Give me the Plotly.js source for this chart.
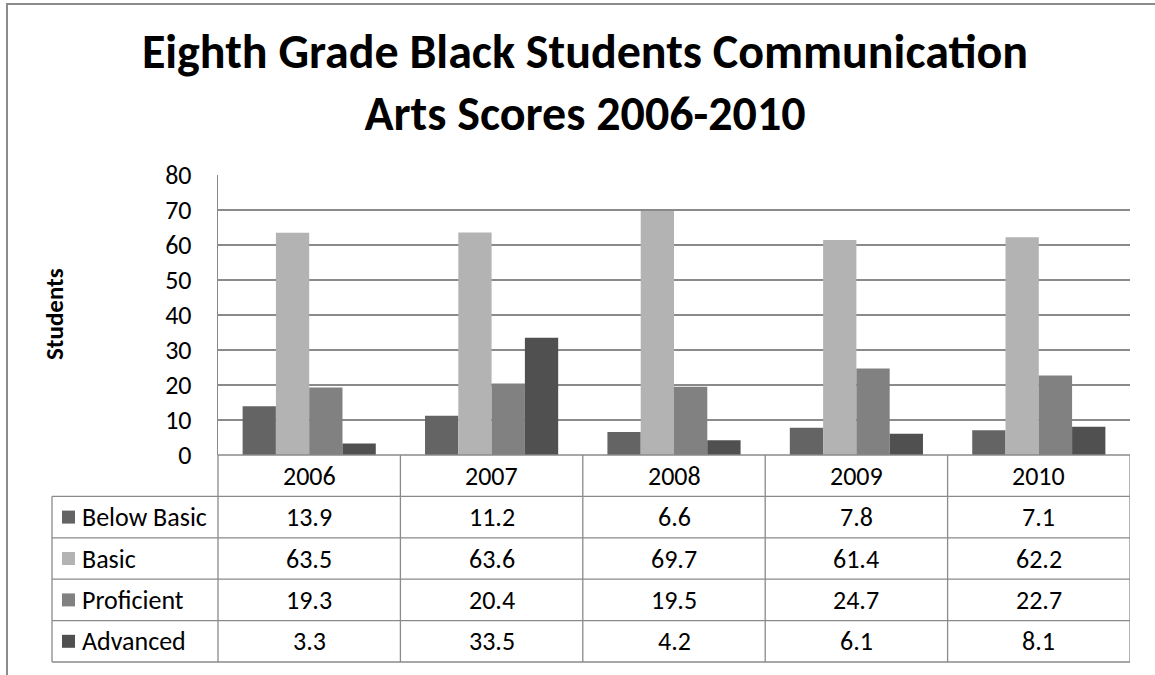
<!DOCTYPE html>
<html>
<head>
<meta charset="utf-8">
<script src="https://cdn.plot.ly/plotly-3.0.1.min.js"></script>
<style>html,body{margin:0;padding:0;background:#fff;}#chart{width:1155px;height:675px;}</style>
</head>
<body>
<div id="chart"></div>
<script>
const years = ['2006', '2007', '2008', '2009', '2010'];
const seriesNames = ['Below Basic', 'Basic', 'Proficient', 'Advanced'];
const belowBasic = [13.9, 11.2, 6.6, 7.8, 7.1];
const basic = [63.5, 63.6, 69.7, 61.4, 62.2];
const proficient = [19.3, 20.4, 19.5, 24.7, 22.7];
const advanced = [3.3, 33.5, 4.2, 6.1, 8.1];
const yTicks = [0, 10, 20, 30, 40, 50, 60, 70, 80];

const seriesValues = [belowBasic, basic, proficient, advanced];
const colors = ['#646464', '#b3b3b3', '#818181', '#505050'];
const FONT = 'Calibri, Carlito, Lato, sans-serif';
const GRID = '#8a8a8a';
const TXT = 26;

// plot area in px
const L = 218, R = 1130, T = 175, B = 455;
const W = 1155, H = 675;
const px2x = p => (p - L) / (R - L);
const py2y = p => (B - p) / (B - T);

const rowH = 41.4;
const tableLeft = 52;

const traces = seriesNames.map((n, i) => ({
  type: 'bar', name: n, x: years, y: seriesValues[i],
  marker: {color: colors[i], line: {width: 0}},
  hoverinfo: 'x+y+name'
}));

const shapes = [];
const annotations = [];
const line = (x0, y0, x1, y1) => shapes.push({type: 'line', xref: 'paper', yref: 'paper',
  x0: px2x(x0), y0: py2y(y0), x1: px2x(x1), y1: py2y(y1), line: {color: GRID, width: 1.3}, layer: 'above'});

// outer chart border
shapes.push({type: 'rect', xref: 'paper', yref: 'paper', x0: px2x(7), y0: py2y(4), x1: px2x(W + 20), y1: py2y(H + 20),
  line: {color: '#8c8c8c', width: 2}, fillcolor: 'rgba(0,0,0,0)', layer: 'below'});

// table horizontal lines
line(L, B, R, B);
for (let r = 1; r <= 5; r++) {
  const yy = B + rowH * r;
  line(tableLeft, yy, R, yy);
}
// vertical lines
line(tableLeft, B + rowH, tableLeft, B + rowH * 5);
line(L, B, L, B + rowH * 5);
for (let c = 0; c < years.length; c++) {
  shapes.push({type: 'line', xref: 'x', yref: 'paper', x0: c + 0.5, x1: c + 0.5,
    y0: py2y(B), y1: py2y(B + rowH * 5), line: {color: GRID, width: 1.3}, layer: 'above'});
}

// header year labels
years.forEach((yr, c) => annotations.push({xref: 'x', yref: 'paper', x: c, y: py2y(B + rowH / 2),
  text: yr, showarrow: false, font: {family: FONT, size: TXT, color: '#000'}, xanchor: 'center', yanchor: 'middle'}));

// rows
seriesNames.forEach((n, i) => {
  const cy = B + rowH * (i + 1.5);
  shapes.push({type: 'rect', xref: 'paper', yref: 'paper', x0: px2x(62), x1: px2x(75),
    y0: py2y(cy - 6.5), y1: py2y(cy + 6.5), fillcolor: colors[i], line: {width: 0}});
  annotations.push({xref: 'paper', yref: 'paper', x: px2x(80), y: py2y(cy), text: n, showarrow: false,
    xanchor: 'left', yanchor: 'middle', font: {family: FONT, size: TXT, color: '#000'}});
  seriesValues[i].forEach((v, c) => annotations.push({xref: 'x', yref: 'paper', x: c, y: py2y(cy),
    text: v.toFixed(1), showarrow: false, xanchor: 'center', yanchor: 'middle',
    font: {family: FONT, size: TXT, color: '#000'}}));
});

// y axis title
annotations.push({xref: 'paper', yref: 'paper', x: px2x(54), y: py2y(314), text: '<b>Students</b>',
  textangle: -90, showarrow: false, xanchor: 'center', yanchor: 'middle',
  font: {family: FONT, size: 25, color: '#000'}});

const layout = {
  width: W, height: H,
  margin: {l: L, r: W - R, t: T, b: H - B},
  paper_bgcolor: '#fff', plot_bgcolor: '#fff',
  title: {text: '<b>Eighth Grade Black Students Communication<br>Arts Scores 2006-2010</b>',
    font: {family: FONT, size: 48, color: '#000'}, x: 0.5065, xanchor: 'center',
    y: 1 - 68 / 675, yanchor: 'top', yref: 'container'},
  showlegend: false,
  barmode: 'group', bargap: 0.27, bargroupgap: 0,
  xaxis: {type: 'category', range: [-0.5, 4.5], showticklabels: false, ticks: '', showgrid: false,
    zeroline: false, showline: false, fixedrange: true},
  yaxis: {range: [0, 80], tickvals: yTicks, ticktext: yTicks.map(String), showgrid: true, gridcolor: GRID, gridwidth: 1.3,
    zeroline: false, showline: true, linecolor: GRID, linewidth: 1.3,
    ticks: 'outside', ticklen: 20, tickcolor: 'rgba(0,0,0,0)',
    tickfont: {family: FONT, size: TXT, color: '#000'}, fixedrange: true},
  shapes: shapes,
  annotations: annotations
};

Plotly.newPlot('chart', traces, layout, {displayModeBar: false, staticPlot: true});
</script>
</body>
</html>
